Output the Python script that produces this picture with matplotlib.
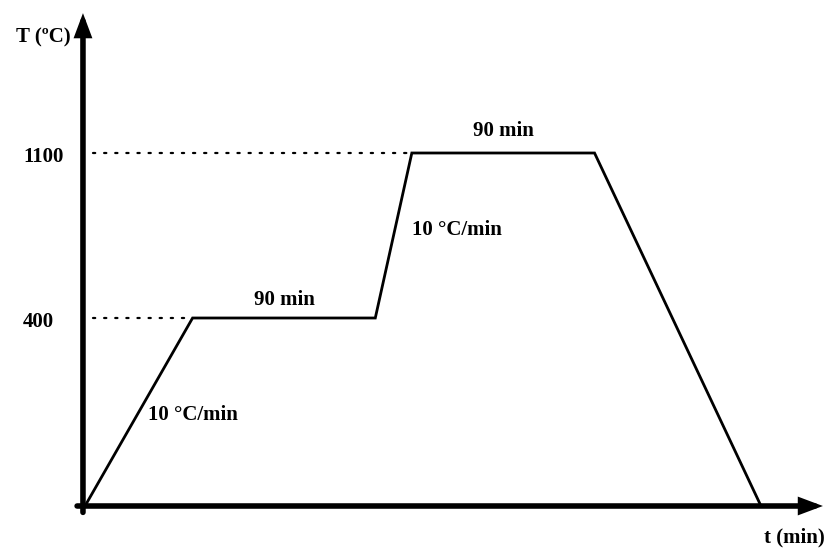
import matplotlib.pyplot as plt
import numpy as np

# ------------------------- Heat treatment cycle -------------------------

# schedule breakpoints (time in min, temperature in degC)
time_pts = [0, 53, 143, 161, 251, 333]
temp_pts = [0, 400, 400, 1100, 1100, 0]

hold_time = [90, 90]                 # dwell at each plateau
hold_temp = [400, 1100]
ramp_label = ["10 °C/min", "10 °C/min"]
ramp_label_pos = [(53, 194), (183, 775)]

temp_ticks = [400, 1100]

# schematic temperature axis: each level gets its own height on the page
level_T = [0, 400, 1100]
level_h = [0, 188, 353]

def _anchors():
    T = list(level_T)
    h = list(level_h)
    s0 = (h[1] - h[0]) / (T[1] - T[0])
    s1 = (h[-1] - h[-2]) / (T[-1] - T[-2])
    T = [T[0] - 10000] + T + [T[-1] + 10000]
    h = [h[0] - 10000 * s0] + h + [h[-1] + 10000 * s1]
    return np.array(T, float), np.array(h, float)

A_T, A_h = _anchors()

def fwd(T):
    return np.interp(T, A_T, A_h)

def inv(h):
    return np.interp(h, A_h, A_T)


px_per_min = 2.03
x0_px = 85

font = dict(family="Liberation Serif", fontweight="bold", fontsize=15, color="k")

fig = plt.figure(figsize=(8.38, 5.48), dpi=100)
ax = fig.add_axes([0, 0, 1, 1])
ax.set_yscale("function", functions=(fwd, inv))
ax.set_xlim(-x0_px / px_per_min, (838 - x0_px) / px_per_min)
ax.set_ylim(inv(-42), inv(506))
ax.axis("off")

# axes as thick arrows
head = "-|>,head_length=0.8,head_width=0.3"
arrow = dict(arrowstyle=head, lw=4, color="k", shrinkA=0, shrinkB=0,
             mutation_scale=13, joinstyle="miter")
ax.annotate("", xy=(-1, 0.976), xytext=(-1, 0.065),
            xycoords=("data", "axes fraction"), textcoords=("data", "axes fraction"),
            arrowprops=arrow)
ax.annotate("", xy=(0.982, 0), xytext=(0.092, 0),
            xycoords=("axes fraction", "data"), textcoords=("axes fraction", "data"),
            arrowprops=arrow)

# temperature profile
ax.plot(time_pts, temp_pts, color="k", lw=2, solid_joinstyle="miter", zorder=3)

# guide lines from the temperature axis to each plateau
for T in hold_temp:
    t_start = time_pts[temp_pts.index(T)]
    ax.plot([4, t_start], [T, T], color="k", lw=1.6, ls=(0, (1, 4)),
            dash_capstyle="round")

# temperature labels
for T in temp_ticks:
    ax.annotate(str(T), xy=(23 / 838, T), xycoords=("axes fraction", "data"),
                xytext=(0, -3), textcoords="offset points",
                ha="left", va="center", **font)

# dwell time labels over each plateau
offsets = [13, 16]
for k, (d, T) in enumerate(zip(hold_time, hold_temp)):
    i = temp_pts.index(T)
    tc = (time_pts[i] + time_pts[i + 1]) / 2
    ax.annotate(f"{d} min", xy=(tc, T), xytext=(0, offsets[k]),
                textcoords="offset points", ha="center", va="center", **font)

# ramp rates
for lab, (t, T) in zip(ramp_label, ramp_label_pos):
    ax.text(t, T, lab, ha="center", va="center", **font)

ax.text(43 / 838, 1 - 37 / 548, "T (ºC)", transform=ax.transAxes,
        ha="center", va="center", **font)
ax.text(794 / 838, 1 - 537 / 548, "t (min)", transform=ax.transAxes,
        ha="center", va="center", **font)

fig.savefig("out.png", dpi=100)
